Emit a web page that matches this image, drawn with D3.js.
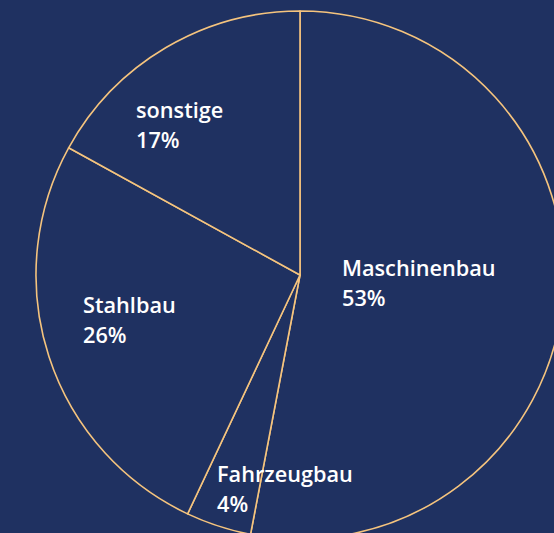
<!DOCTYPE html>
<html>
<head>
<meta charset="utf-8">
<script src="https://cdn.jsdelivr.net/npm/d3@7"></script>
<style>
  html, body { margin: 0; padding: 0; background: #1f3161; overflow: hidden; }
  svg { display: block; }
</style>
</head>
<body>
<svg id="chart" width="554" height="533"></svg>
<script>
// Data
const categories = ["Maschinenbau", "Fahrzeugbau", "Stahlbau", "sonstige"];
const shares = [53, 4, 26, 17];
const percentLabels = ["53%", "4%", "26%", "17%"];

// Layout (label anchors relative to pie centre, left-aligned)
const labelOffsets = [[42, 1], [-83, 207], [-217, 38], [-164, -157]];

const width = 554, height = 533;
const cx = 300, cy = 275, radius = 264;

const svg = d3.select("#chart");
svg.append("rect").attr("width", width).attr("height", height).attr("fill", "#1f3161");

const pie = d3.pie().sort(null).value(d => d.value);
const arc = d3.arc().innerRadius(0).outerRadius(radius);

const data = categories.map((c, i) => ({ name: c, value: shares[i], pct: percentLabels[i], off: labelOffsets[i] }));

const g = svg.append("g").attr("transform", `translate(${cx},${cy})`);

g.selectAll("path.slice")
  .data(pie(data))
  .join("path")
  .attr("class", "slice")
  .attr("d", arc)
  .attr("fill", "#1f3161")
  .attr("stroke", "#f5c47e")
  .attr("stroke-width", 1.6)
  .attr("stroke-linejoin", "round");

const labels = g.selectAll("text.lbl")
  .data(pie(data))
  .join("text")
  .attr("class", "lbl")
  .attr("x", d => d.data.off[0])
  .attr("y", d => d.data.off[1])
  .attr("fill", "#ffffff")
  .attr("font-family", "'Open Sans', 'Noto Sans', sans-serif")
  .attr("font-weight", 600)
  .attr("font-size", 21.7);

labels.append("tspan").text(d => d.data.name);
labels.append("tspan")
  .attr("x", d => d.data.off[0])
  .attr("dy", 29.5)
  .text(d => d.data.pct);
</script>
</body>
</html>
